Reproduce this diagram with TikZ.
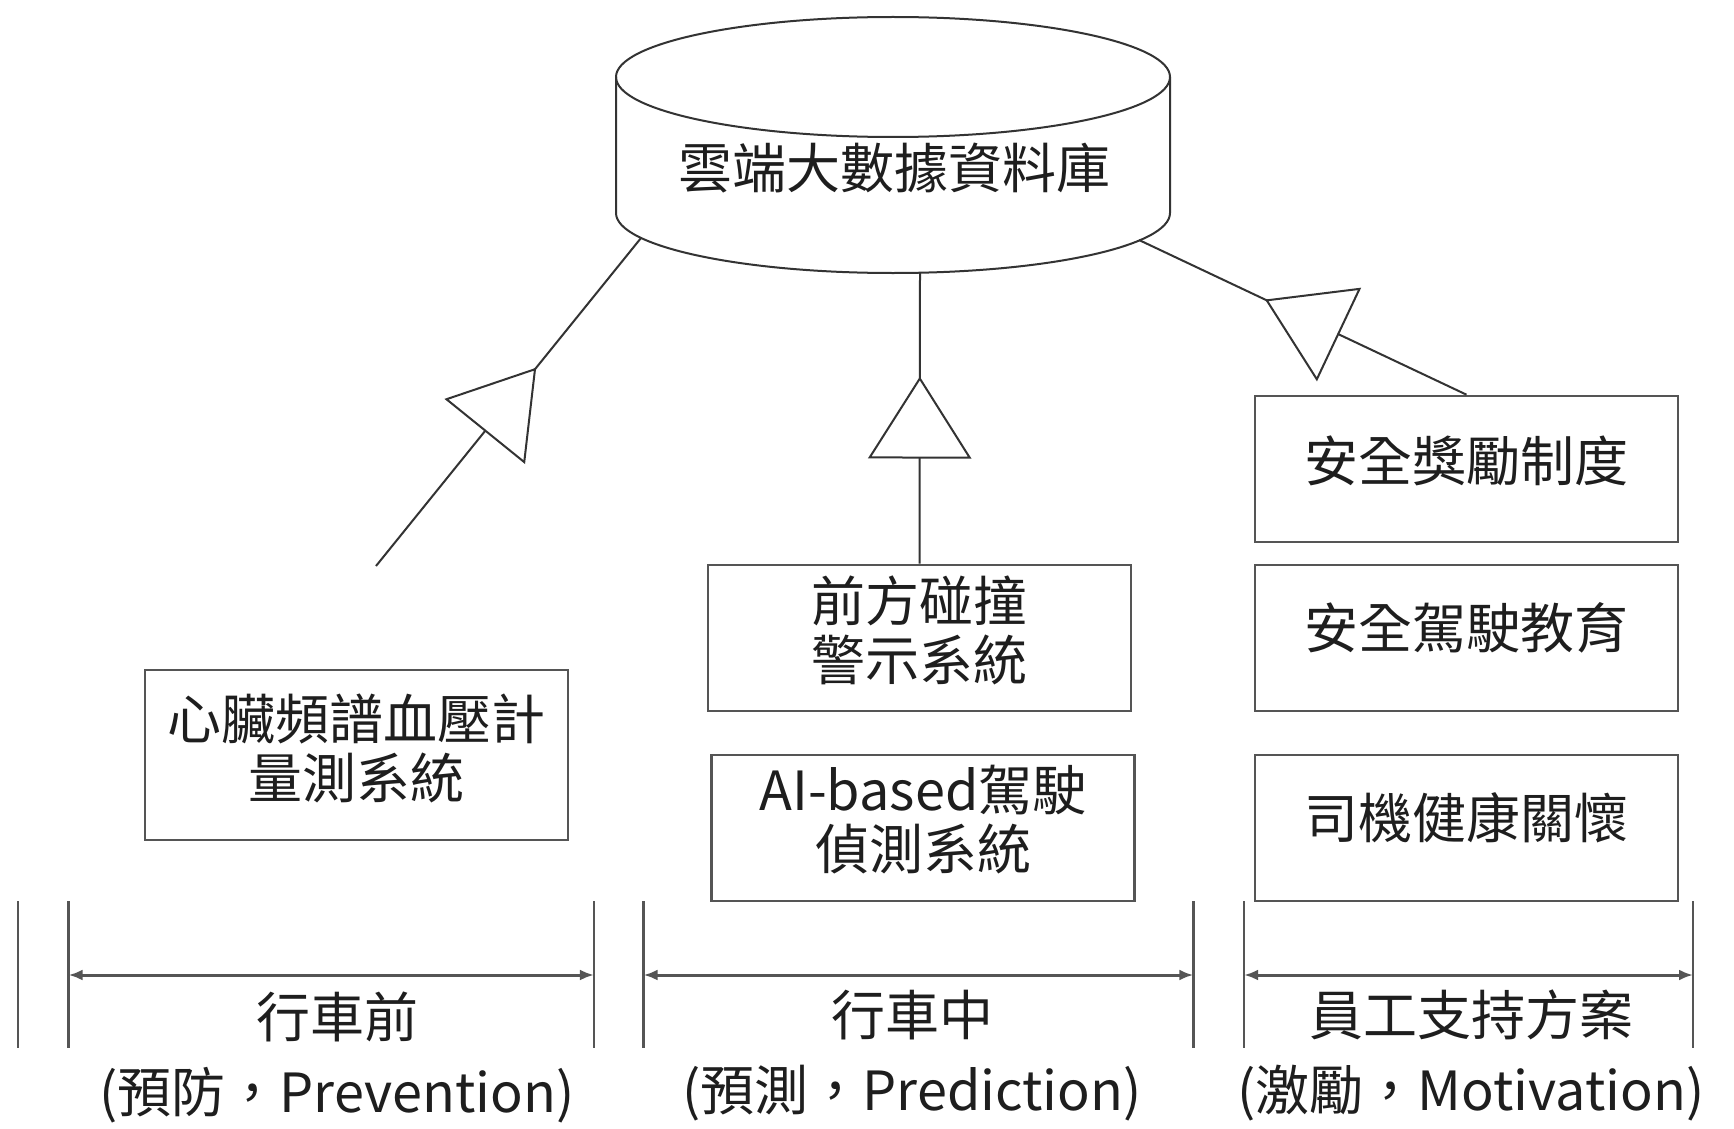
\documentclass[tikz,border=0pt]{standalone}
\usepackage{fontspec}
\setmainfont{Noto Sans CJK TC}
\usetikzlibrary{arrows.meta,decorations.markings}
\definecolor{boxgray}{HTML}{555555}
\definecolor{linegray}{HTML}{333333}
\definecolor{txt}{HTML}{1E1E1E}
\begin{document}
\begin{tikzpicture}[x=1pt,y=-1pt,
  lbl/.style={font=\fontsize{54}{59}\selectfont, inner sep=0pt, align=center, text=txt},
  sysbox/.style={draw=boxgray, line width=2.6pt, minimum width=423pt, minimum height=146pt, inner sep=0pt},
  cyl/.style={draw=linegray, line width=2pt},
  conn/.style={draw=linegray, line width=2pt},
  tri/.style={postaction={decorate}, decoration={markings, mark=at position #1 with {\draw[draw=linegray, line width=2pt, fill=white, line join=miter] (0pt,0pt) -- (-79pt,50pt) -- (-79pt,-50pt) -- cycle;}}},
  tick/.style={draw=boxgray, line width=2.4pt},
  dim/.style={draw=boxgray, line width=3pt, {Latex[length=14pt,width=11pt]}-{Latex[length=14pt,width=11pt]}}
]
\useasboundingbox[fill=white] (0,0) rectangle (1734,1129);

% database cylinder
\draw[cyl, fill=white] (616,77) -- (616,213) arc[start angle=180, end angle=360, x radius=277pt, y radius=60pt] -- (1170,77);
\draw[cyl] (893,77) ellipse [x radius=277pt, y radius=60pt];
\node[lbl] (db) at (894,168) {雲端大數據資料庫};
\coordinate (dbL) at (641,238);
\coordinate (dbM) at (920,273);
\coordinate (dbR) at (1139,240);

% boxes
\node[sysbox, minimum height=170pt] (pbox) at (356.5,755) {};
\node[lbl] (ptxt) at ([yshift=7pt]pbox.center) {心臟頻譜血壓計\\量測系統};
\node[sysbox] (m1) at (919.5,638) {};
\node[lbl] (m1t) at ([yshift=8pt]m1.center) {前方碰撞\\警示系統};
\node[sysbox] (m2) at (923,828) {};
\node[lbl] (m2t) at ([yshift=8pt]m2.center) {AI-based駕駛\\偵測系統};
\node[sysbox] (r1) at (1466.5,469) {};
\node[lbl] (r1t) at ([yshift=8pt]r1.center) {安全獎勵制度};
\node[sysbox] (r2) at (1466.5,638) {};
\node[lbl] (r2t) at ([yshift=10pt]r2.center) {安全駕駛教育};
\node[sysbox] (r3) at (1466.5,828) {};
\node[lbl] (r3t) at ([yshift=10pt]r3.center) {司機健康關懷};

% connectors with open triangles
\coordinate (pfree) at (376,566);
\draw[conn, tri=0.6] (pfree) -- (dbL);
\draw[conn, tri=0.637] (m1.north) -- (dbM);
\draw[conn, tri=0.61] (r1.north) -- (dbR);

% dimension ticks
\foreach \n/\x in {k0/17.7,k1/68.6,k2/593.9,k3/643.6,k4/1193.3,k5/1244.1,k6/1693}{
  \coordinate (\n a) at (\x,901);
  \coordinate (\n b) at (\x,1048);
  \draw[tick] (\n a) -- (\n b);
}
\coordinate (d1l) at (68.6,975);
\coordinate (d1r) at (593.9,975);
\coordinate (d2l) at (643.6,975);
\coordinate (d2r) at (1193.3,975);
\coordinate (d3l) at (1244.1,975);
\coordinate (d3r) at (1693,975);
\draw[dim] (d1l) -- (d1r);
\draw[dim] (d2l) -- (d2r);
\draw[dim] (d3l) -- (d3r);

% phase labels
\node[lbl] (ph1) at (337,1017) {行車前};
\node[lbl] (ph1s) at (337,1095) {(預防，Prevention)};
\node[lbl] (ph2) at (912,1015) {行車中};
\node[lbl] (ph2s) at (912,1093) {(預測，Prediction)};
\node[lbl] (ph3) at (1471,1015) {員工支持方案};
\node[lbl] (ph3s) at (1471,1093) {(激勵，Motivation)};
\end{tikzpicture}
\end{document}
